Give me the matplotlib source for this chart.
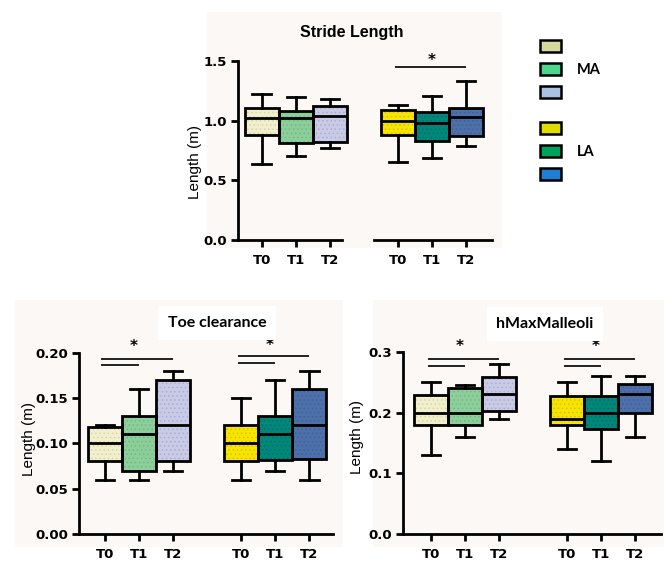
import matplotlib
matplotlib.use("Agg")
import matplotlib.pyplot as plt
from matplotlib.patches import Rectangle, Patch

W, H = 664, 562

# box order: MA T0, MA T1, MA T2, LA T0, LA T1, LA T2
POS = [0, 1, 2, 4, 5, 6]
TICK_LABELS = ["T0", "T1", "T2", "T0", "T1", "T2"]

BOX_COLORS = ["#f2efcd", "#8ccf9a", "#c8cae6", "#f7e400", "#00877b", "#4e70aa"]
DOT_COLORS = ["#d8d4ac", "#74b884", "#abaed0", "#d4c400", "#00705f", "#405f95"]
LEGEND_MA = ["#d4da9e", "#4ed68a", "#a9c2e2"]
LEGEND_LA = ["#e0dc00", "#00a35a", "#1e7fd4"]

# Stride Length
stride_lo = [0.64, 0.70, 0.77, 0.65, 0.69, 0.79]
stride_q1 = [0.88, 0.81, 0.82, 0.88, 0.83, 0.87]
stride_med = [1.02, 1.02, 1.04, 1.00, 0.98, 1.03]
stride_q3 = [1.11, 1.08, 1.12, 1.09, 1.07, 1.11]
stride_hi = [1.22, 1.20, 1.18, 1.13, 1.21, 1.33]
stride_sig = [(3, 5, 1.45)]           # (from box, to box, y)
stride_stars = [(5.0, 1.505)]

# Toe clearance
toe_lo = [0.060, 0.060, 0.070, 0.060, 0.070, 0.060]
toe_q1 = [0.080, 0.070, 0.080, 0.080, 0.082, 0.083]
toe_med = [0.100, 0.110, 0.120, 0.100, 0.110, 0.120]
toe_q3 = [0.118, 0.130, 0.170, 0.120, 0.130, 0.160]
toe_hi = [0.120, 0.160, 0.180, 0.150, 0.170, 0.180]
toe_sig = [(0, 2, 0.193), (0, 1, 0.186), (3, 5, 0.196), (3, 4, 0.189)]
toe_stars = [(0.85, 0.207), (4.85, 0.208)]

# hMaxMalleoli
hmax_lo = [0.13, 0.16, 0.19, 0.14, 0.12, 0.16]
hmax_q1 = [0.18, 0.18, 0.202, 0.18, 0.173, 0.20]
hmax_med = [0.20, 0.20, 0.23, 0.19, 0.20, 0.23]
hmax_q3 = [0.229, 0.24, 0.258, 0.228, 0.228, 0.248]
hmax_hi = [0.25, 0.245, 0.28, 0.25, 0.26, 0.26]
hmax_sig = [(0, 2, 0.289), (0, 1, 0.277), (3, 5, 0.289), (3, 4, 0.277)]
hmax_stars = [(0.85, 0.309), (4.85, 0.309)]

PINK = "#fcf8f6"
LW = 2.0
plt.rcParams["hatch.linewidth"] = 0.6


def px_rect(left, top, right, bottom):
    return [left / W, 1 - bottom / H, (right - left) / W, (bottom - top) / H]


def draw_panel(ax, lo, q1, med, q3, hi, sig, stars, ylim, yticks, yfmt, xlim):
    stats = [dict(whislo=a, q1=b, med=c, q3=d, whishi=e)
             for a, b, c, d, e in zip(lo, q1, med, q3, hi)]
    # fill + dotted texture
    fill = ax.bxp(stats, positions=POS, widths=1.0, patch_artist=True,
                  showfliers=False, showcaps=False,
                  boxprops=dict(linewidth=0),
                  whiskerprops=dict(linewidth=0),
                  medianprops=dict(linewidth=0), zorder=2)
    for box, fc, dc in zip(fill["boxes"], BOX_COLORS, DOT_COLORS):
        box.set_facecolor(fc)
        box.set_edgecolor(dc)
        box.set_hatch("....")
    # outlines
    ax.bxp(stats, positions=POS, widths=1.0, patch_artist=True,
           showfliers=False, capwidths=0.55,
           boxprops=dict(facecolor="none", edgecolor="black", linewidth=LW),
           whiskerprops=dict(color="black", linewidth=LW),
           capprops=dict(color="black", linewidth=LW),
           medianprops=dict(color="black", linewidth=LW), zorder=3)
    for i0, i1, y in sig:
        ax.plot([POS[i0] - 0.1, POS[i1]], [y, y], color="#222222", lw=1.4,
                clip_on=False, solid_capstyle="butt")
    for x, y in stars:
        ax.text(x, y, "*", ha="center", va="center", fontsize=11,
                fontweight="bold", clip_on=False)
    ax.set_xlim(*xlim)
    ax.set_ylim(*ylim)
    ax.set_yticks(yticks)
    ax.set_yticklabels([yfmt % v for v in yticks])
    ax.set_xticks(POS)
    ax.set_xticklabels(TICK_LABELS)
    ax.set_facecolor("none")
    for s in ("top", "right"):
        ax.spines[s].set_visible(False)
    for s in ("left", "bottom"):
        ax.spines[s].set_linewidth(LW)
    ax.tick_params(direction="out", length=5, width=LW, labelsize=9.5, pad=3)
    ax.tick_params(axis="x", pad=5)
    for t in ax.get_xticklabels() + ax.get_yticklabels():
        t.set_fontweight("bold")


fig = plt.figure(figsize=(W / 100, H / 100), dpi=100)
fig.patch.set_facecolor("white")

for (l, t, r, b) in [(207, 12, 502, 248), (15, 300, 343, 547), (373, 300, 664, 547)]:
    fig.add_artist(Rectangle((l / W, 1 - b / H), (r - l) / W, (b - t) / H,
                             transform=fig.transFigure, facecolor=PINK,
                             edgecolor="none", zorder=0))

ax1 = fig.add_axes(px_rect(238, 61, 492, 240))
draw_panel(ax1, stride_lo, stride_q1, stride_med, stride_q3, stride_hi,
           stride_sig, stride_stars, (0, 1.5), [0, 0.5, 1.0, 1.5], "%.1f",
           (-0.7, 6.76))
# broken x axis between the two groups
ax1.spines["bottom"].set_bounds(-0.7, 2.35)
ax1.plot([3.3, 6.76], [0, 0], color="black", lw=LW, clip_on=False)

ax2 = fig.add_axes(px_rect(79, 352.7, 333, 534))
draw_panel(ax2, toe_lo, toe_q1, toe_med, toe_q3, toe_hi, toe_sig, toe_stars,
           (0, 0.2), [0, 0.05, 0.10, 0.15, 0.20], "%.2f", (-0.76, 6.7))

ax3 = fig.add_axes(px_rect(403, 352, 661, 534))
draw_panel(ax3, hmax_lo, hmax_q1, hmax_med, hmax_q3, hmax_hi, hmax_sig,
           hmax_stars, (0, 0.3), [0, 0.1, 0.2, 0.3], "%.1f", (-0.82, 6.76))

# titles
fig.text(352 / W, 1 - 33 / H, "Stride Length", ha="center", va="center",
         fontsize=11.5, fontweight="bold", family="Liberation Sans")
fig.text(217 / W, 1 - 323 / H, "Toe clearance", ha="center", va="center",
         fontsize=11.5, fontweight="bold", family="Lato",
         bbox=dict(facecolor="white", edgecolor="none", pad=7))
fig.text(545 / W, 1 - 324 / H, "hMaxMalleoli", ha="center", va="center",
         fontsize=11.5, fontweight="bold", family="Lato",
         bbox=dict(facecolor="white", edgecolor="none", pad=7))

# y labels
for x, y in [(195, 162), (29, 439), (357, 437)]:
    fig.text(x / W, 1 - y / H, "Length (m)", rotation=90, ha="center",
             va="center", fontsize=11, family="Liberation Sans")

# legends
for colors, name, top in [(LEGEND_MA, "MA", 40), (LEGEND_LA, "LA", 122)]:
    handles = [Patch(facecolor=c, edgecolor="black", linewidth=1.8) for c in colors]
    fig.legend(handles, [" ", name, " "], loc="upper left",
               bbox_to_anchor=(540 / W, 1 - top / H), frameon=False,
               borderpad=0, borderaxespad=0, handlelength=1.45,
               handleheight=0.85, handletextpad=1.1, labelspacing=0.62,
               prop=dict(family="Lato", weight="bold", size=10.5))

fig.savefig("out.png", dpi=100)
